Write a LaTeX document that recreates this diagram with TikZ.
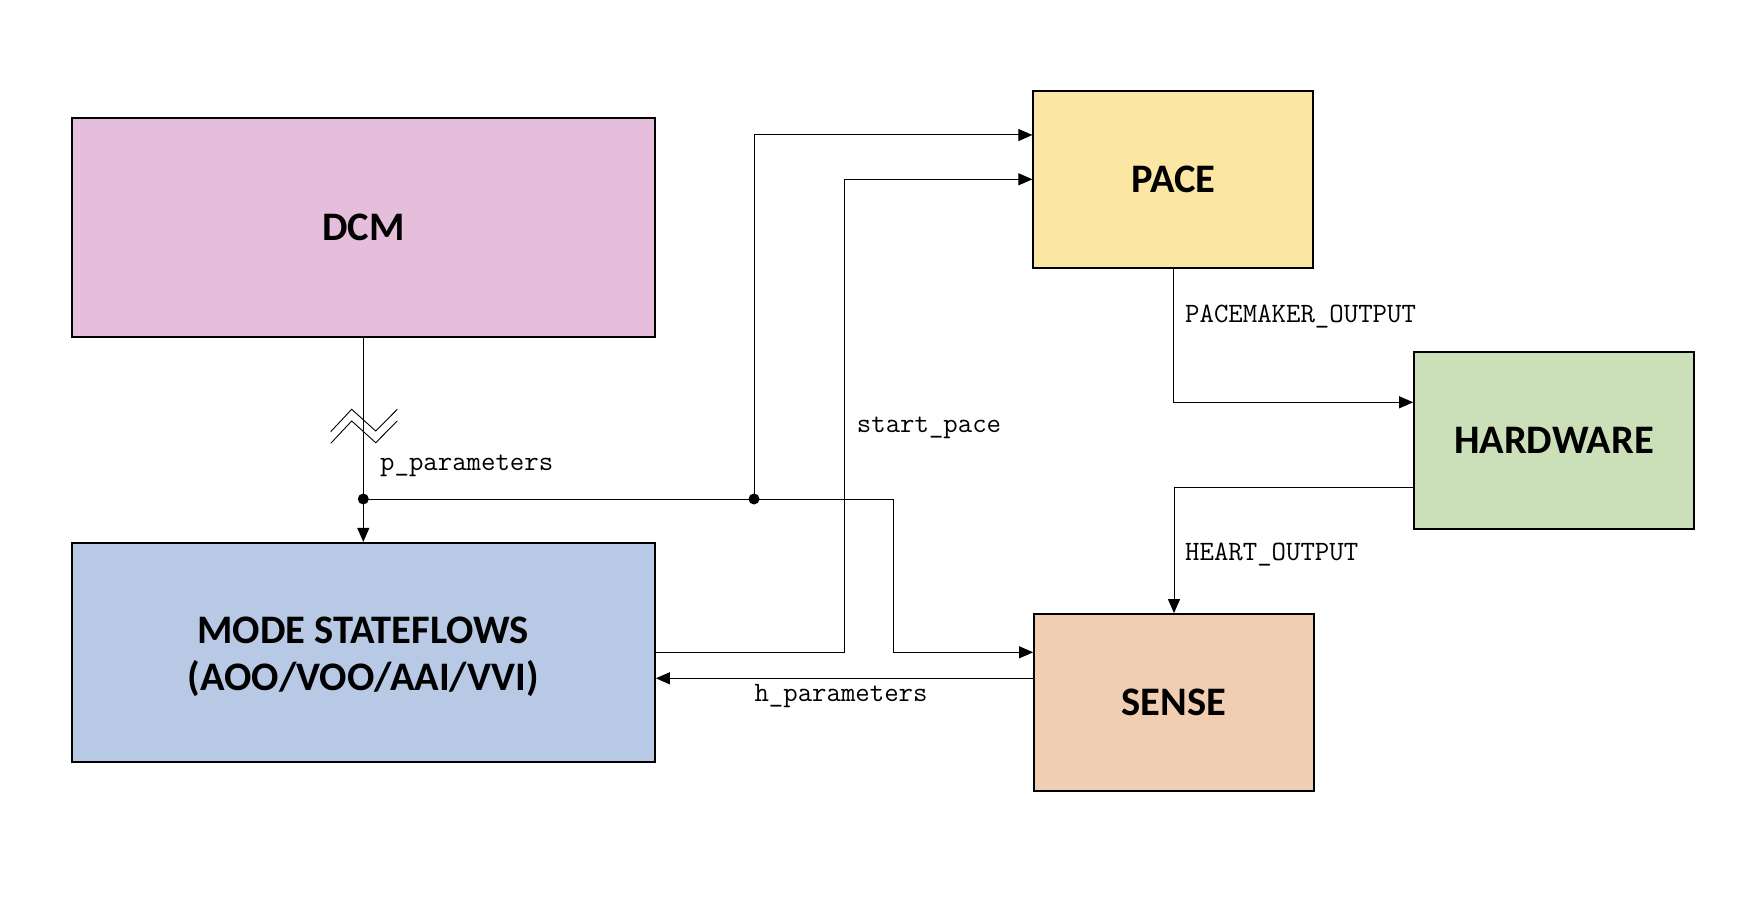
\documentclass[tikz,border=0pt]{standalone}
\usepackage{fontspec}
\setmainfont{Carlito}
\newfontfamily\boxfont{Carlito}
\usetikzlibrary{arrows.meta,calc}
\definecolor{dcmc}{HTML}{E5BEDB}
\definecolor{modec}{HTML}{B8C9E5}
\definecolor{pacec}{HTML}{FBE6A4}
\definecolor{hwc}{HTML}{CBDFB8}
\definecolor{sensec}{HTML}{F1CDB1}
\begin{document}
\begin{tikzpicture}[x=1pt,y=-1pt,
  box/.style={draw=black,line width=1.8pt,minimum width=280pt,minimum height=177pt,inner sep=0pt,
    font=\boxfont\bfseries\fontsize{40.5}{48}\selectfont,align=center},
  wire/.style={line width=1pt},
  conn/.style={line width=1pt,-{Triangle[length=14pt,width=12pt]}},
  lbl/.style={font=\ttfamily\fontsize{28}{32}\selectfont,anchor=base west,inner sep=0pt},
  junc/.style={circle,fill=black,inner sep=0pt,minimum size=11pt}]
\useasboundingbox[fill=white] (0,0) rectangle (1748,920);

% boxes
\node[box,fill=dcmc,minimum width=583.3pt,minimum height=219pt] (dcm) at (363.3,227.2) {DCM};
\node[box,fill=modec,minimum width=583.3pt,minimum height=219pt] (mode) at (363.3,652.3) {\raisebox{-5pt}[\height][\depth]{\begin{tabular}{@{}c@{}}MODE STATEFLOWS\\[-0.5pt](AOO/VOO/AAI/VVI)\end{tabular}}};
\node[box,fill=pacec] (pace) at (1173.3,179.3) {PACE};
\node[box,fill=hwc] (hw) at (1554,440.5) {HARDWARE};
\node[box,fill=sensec] (sense) at (1174,702.5) {SENSE};

% junctions
\node[junc] (j1) at (363.3,499) {};
\node[junc] (j2) at (754,499) {};

% named connector points
\coordinate (pin1) at ($(pace.west)+(0,-44.3)$);
\coordinate (sin1) at ($(sense.west)+(0,-50.2)$);
\coordinate (hp) at ($(sense.west)+(0,-24.2)$);
\coordinate (hwin) at ($(hw.west)+(0,-38.2)$);
\coordinate (hwout) at ($(hw.west)+(0,46.5)$);

% connectors
\draw[wire] (dcm.south) -- (j1.center);
\draw[conn] (j1.center) -- (mode.north);
\draw[wire] (j1.center) -- (j2.center);
\draw[conn] (j2.center) |- (pin1);
\draw[conn] (j2.center) -| ([xshift=-140pt]sin1) -- (sin1);
\draw[conn] (mode.east) -| ([xshift=-187.7pt]pace.west) -- (pace.west);
\draw[conn] (hp) -- (hp -| mode.east);
\draw[conn] (pace.south) |- (hwin);
\draw[conn] (hwout) -| (sense.north);

% break symbol on the p_parameters line
\draw[line width=0.9pt] (330.7,431.7) -- (351.7,409.3) -- (375.7,431) -- (397.3,409.3);
\draw[line width=0.9pt] (330.7,443.4) -- (351.7,421) -- (375.7,442.7) -- (397.3,421);

% labels
\node[lbl] (lp) at (380,470.7) {p\_parameters};
\node[lbl] (ls) at (856.7,432.3) {start\_pace};
\node[lbl] (lpo) at (1185,322.3) {PACEMAKER\_OUTPUT};
\node[lbl] (lho) at (1185,560) {HEART\_OUTPUT};
\node[lbl] (lh) at (754.3,701.7) {h\_parameters};
\end{tikzpicture}
\end{document}
